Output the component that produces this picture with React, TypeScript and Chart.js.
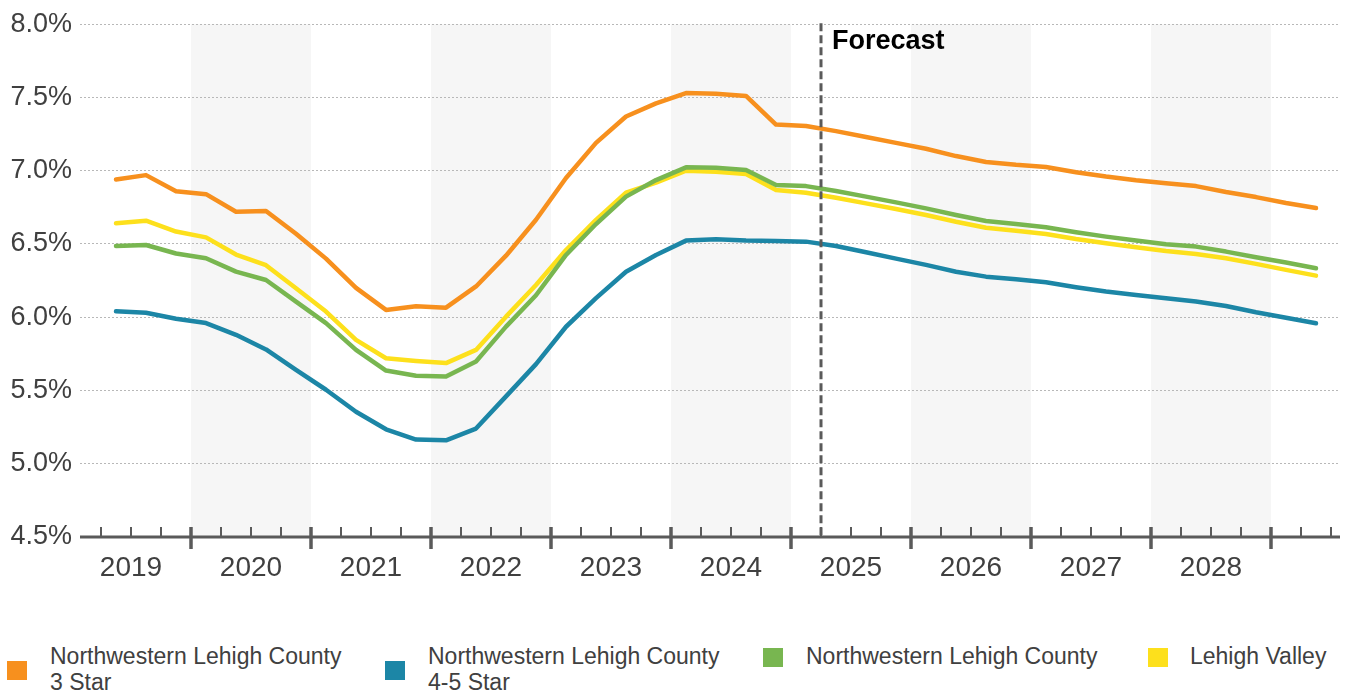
import React, { useEffect, useRef } from 'react';
import { Chart, registerables } from 'chart.js';

Chart.register(...registerables);

const FONT = '"Liberation Sans", Arial, Helvetica, sans-serif';

// Quarterly periods shown (2019 Q2 .. 2029 Q2)
const QUARTERS = [
  '2019 Q2', '2019 Q3', '2019 Q4',
  '2020 Q1', '2020 Q2', '2020 Q3', '2020 Q4',
  '2021 Q1', '2021 Q2', '2021 Q3', '2021 Q4',
  '2022 Q1', '2022 Q2', '2022 Q3', '2022 Q4',
  '2023 Q1', '2023 Q2', '2023 Q3', '2023 Q4',
  '2024 Q1', '2024 Q2', '2024 Q3', '2024 Q4',
  '2025 Q1', '2025 Q2', '2025 Q3', '2025 Q4',
  '2026 Q1', '2026 Q2', '2026 Q3', '2026 Q4',
  '2027 Q1', '2027 Q2', '2027 Q3', '2027 Q4',
  '2028 Q1', '2028 Q2', '2028 Q3', '2028 Q4',
  '2029 Q1', '2029 Q2',
];

const YEAR_LABELS = ['2019', '2020', '2021', '2022', '2023', '2024', '2025', '2026', '2027', '2028'];
const SHADED_YEARS = ['2020', '2022', '2024', '2026', '2028'];
const Y_TICKS = [4.5, 5.0, 5.5, 6.0, 6.5, 7.0, 7.5, 8.0];
const FORECAST_START = '2025 Q2';
const FORECAST_LABEL = 'Forecast';

const SERIES_NAMES = [
  'Northwestern Lehigh County\n3 Star',
  'Northwestern Lehigh County\n4-5 Star',
  'Northwestern Lehigh County',
  'Lehigh Valley',
];
const SERIES_COLORS = ['#F7901E', '#1C86A6', '#78B650', '#FDE01C'];

const STAR3 = [
  6.94, 6.97, 6.86, 6.84, 6.72, 6.725, 6.57, 6.40, 6.20, 6.05, 6.075, 6.065,
  6.21, 6.42, 6.665, 6.95, 7.19, 7.37, 7.46, 7.53, 7.525, 7.51, 7.315, 7.305,
  7.27, 7.23, 7.19, 7.15, 7.10, 7.06, 7.04, 7.025, 6.99, 6.96, 6.935, 6.915,
  6.895, 6.855, 6.82, 6.78, 6.745,
];
const STAR45 = [
  6.04, 6.03, 5.99, 5.96, 5.88, 5.78, 5.64, 5.505, 5.355, 5.235, 5.165, 5.16,
  5.24, 5.46, 5.68, 5.935, 6.13, 6.31, 6.425, 6.523, 6.532, 6.523, 6.52, 6.516,
  6.486, 6.443, 6.40, 6.357, 6.31, 6.277, 6.259, 6.239, 6.205, 6.175, 6.152, 6.13,
  6.107, 6.077, 6.034, 5.997, 5.959,
];
const NW_LEHIGH = [
  6.486, 6.493, 6.435, 6.403, 6.311, 6.254, 6.107, 5.96, 5.777, 5.636, 5.60, 5.595,
  5.698, 5.936, 6.15, 6.425, 6.636, 6.823, 6.936, 7.023, 7.02, 7.005, 6.902, 6.895,
  6.861, 6.823, 6.784, 6.743, 6.698, 6.657, 6.636, 6.614, 6.58, 6.55, 6.523, 6.498,
  6.482, 6.448, 6.409, 6.373, 6.334,
];
const LEHIGH_VALLEY = [
  6.641, 6.659, 6.585, 6.545, 6.428, 6.355, 6.198, 6.039, 5.846, 5.72, 5.702, 5.687,
  5.777, 6.004, 6.22, 6.459, 6.664, 6.85, 6.918, 7.0, 6.993, 6.977, 6.868, 6.85,
  6.816, 6.777, 6.739, 6.698, 6.652, 6.611, 6.591, 6.568, 6.534, 6.505, 6.477, 6.452,
  6.432, 6.402, 6.364, 6.323, 6.284,
];

const BASE_YEAR = Number(YEAR_LABELS[0]);
const quarterStart = (label: string) => {
  const [y, q] = label.split(' Q');
  return (Number(y) - BASE_YEAR) * 4 + (Number(q) - 1);
};
const quarterCenter = (label: string) => quarterStart(label) + 0.5;
const yearCenter = (yr: string) => (Number(yr) - BASE_YEAR) * 4 + 2;
const yearStart = (yr: string) => (Number(yr) - BASE_YEAR) * 4;

const toPoints = (vals: number[]) => vals.map((v, i) => ({ x: quarterCenter(QUARTERS[i]), y: v }));

const CANVAS_W = 1361;
const CANVAS_H = 600;
const AXIS_COLOR = '#5a5a5a';
const TEXT_COLOR = '#404040';

const decorPlugin = {
  id: 'decor',
  beforeDraw(chart: any) {
    const { ctx, chartArea, scales } = chart;
    const x = scales.x;
    ctx.save();
    ctx.fillStyle = '#f6f6f6';
    SHADED_YEARS.forEach((yr) => {
      const s = x.getPixelForValue(yearStart(yr));
      const e = x.getPixelForValue(yearStart(yr) + 4);
      ctx.fillRect(s, chartArea.top, e - s, chartArea.bottom - chartArea.top);
    });
    ctx.restore();
  },
  afterDraw(chart: any) {
    const { ctx, chartArea, scales } = chart;
    const x = scales.x;
    const yAxis = chartArea.bottom;
    ctx.save();
    // forecast dashed line
    const fx = x.getPixelForValue(quarterStart(FORECAST_START));
    ctx.strokeStyle = AXIS_COLOR;
    ctx.lineWidth = 3;
    ctx.setLineDash([8, 4]);
    ctx.beginPath();
    ctx.moveTo(fx, chartArea.top - 1);
    ctx.lineTo(fx, yAxis);
    ctx.stroke();
    ctx.setLineDash([]);
    // forecast label
    ctx.fillStyle = '#000000';
    ctx.font = `bold 27px ${FONT}`;
    ctx.textAlign = 'left';
    ctx.textBaseline = 'alphabetic';
    ctx.fillText(FORECAST_LABEL, fx + 11, chartArea.top + 25);
    // axis line
    ctx.strokeStyle = AXIS_COLOR;
    ctx.lineWidth = 3;
    ctx.beginPath();
    ctx.moveTo(chartArea.left, yAxis);
    ctx.lineTo(chartArea.right, yAxis);
    ctx.stroke();
    // ticks
    const minQ = Math.ceil(x.min);
    const maxQ = Math.floor(x.max);
    for (let q = minQ; q <= maxQ; q++) {
      const px = x.getPixelForValue(q);
      const major = q % 4 === 0;
      ctx.lineWidth = major ? 3.5 : 2;
      ctx.beginPath();
      ctx.moveTo(px, yAxis - 10);
      ctx.lineTo(px, major ? yAxis + 12 : yAxis);
      ctx.stroke();
    }
    ctx.restore();
  },
};

export default function App() {
  const canvasRef = useRef<HTMLCanvasElement | null>(null);

  useEffect(() => {
    const canvas = canvasRef.current;
    if (!canvas) return;
    const seriesData = [STAR3, STAR45, NW_LEHIGH, LEHIGH_VALLEY];
    const chart = new Chart(canvas, {
      type: 'line',
      data: {
        datasets: seriesData.map((vals, i) => ({
          label: SERIES_NAMES[i].replace('\n', ' '),
          data: toPoints(vals),
          borderColor: SERIES_COLORS[i],
          backgroundColor: SERIES_COLORS[i],
          borderWidth: 4.5,
          pointRadius: 0,
          pointHoverRadius: 0,
          tension: 0,
          borderCapStyle: 'round',
          borderJoinStyle: 'round',
          fill: false,
        })),
      },
      options: {
        responsive: false,
        animation: false,
        devicePixelRatio: 1,
        layout: { padding: { left: 0, right: 21, top: 24, bottom: 0 } },
        plugins: {
          legend: { display: false },
          tooltip: { enabled: false },
          title: { display: false },
        },
        scales: {
          x: {
            type: 'linear',
            min: 0.3,
            max: 42.3,
            afterFit: (scale: any) => {
              scale.height = CANVAS_H - 537;
            },
            afterBuildTicks: (scale: any) => {
              scale.ticks = YEAR_LABELS.map((yr) => ({ value: yearCenter(yr) }));
            },
            grid: { display: false, drawTicks: false },
            border: { display: false },
            ticks: {
              autoSkip: false,
              maxRotation: 0,
              padding: 14,
              color: TEXT_COLOR,
              font: { family: FONT, size: 28 },
              callback: (v: any) => {
                const idx = YEAR_LABELS.findIndex((yr) => yearCenter(yr) === Number(v));
                return idx >= 0 ? YEAR_LABELS[idx] : '';
              },
            },
          },
          y: {
            min: Y_TICKS[0],
            max: Y_TICKS[Y_TICKS.length - 1],
            afterFit: (scale: any) => {
              scale.width = 80;
            },
            afterBuildTicks: (scale: any) => {
              scale.ticks = Y_TICKS.map((v) => ({ value: v }));
            },
            grid: {
              drawTicks: false,
              lineWidth: 1,
              color: (c: any) => (c.tick && c.tick.value === Y_TICKS[0] ? 'rgba(0,0,0,0)' : '#b8b8b8'),
            },
            border: { display: false, dash: [2, 2] },
            ticks: {
              padding: 8,
              color: TEXT_COLOR,
              font: { family: FONT, size: 27 },
              callback: (v: any) => `${Number(v).toFixed(1)}%`,
            },
          },
        },
      },
      plugins: [decorPlugin],
    } as any);
    return () => chart.destroy();
  }, []);

  const legendPos = [
    { sq: 7, tx: 50 },
    { sq: 385, tx: 428 },
    { sq: 763, tx: 806 },
    { sq: 1148, tx: 1190 },
  ];

  return (
    <div
      style={{
        position: 'fixed',
        left: 0,
        top: 0,
        width: CANVAS_W,
        height: 696,
        background: '#ffffff',
        overflow: 'hidden',
      }}
    >
      <canvas
        ref={canvasRef}
        width={CANVAS_W}
        height={CANVAS_H}
        style={{ position: 'absolute', left: 0, top: 0, width: CANVAS_W, height: CANVAS_H, display: 'block' }}
      />
      {SERIES_NAMES.map((name, i) => {
        const twoLines = name.includes('\n');
        return (
          <React.Fragment key={i}>
            <div
              style={{
                position: 'absolute',
                left: legendPos[i].sq,
                top: twoLines ? 661 : 648,
                width: 20,
                height: 19,
                background: SERIES_COLORS[i],
              }}
            />
            <div
              style={{
                position: 'absolute',
                left: legendPos[i].tx,
                top: 643,
                fontFamily: FONT,
                fontSize: 23,
                lineHeight: '26px',
                color: TEXT_COLOR,
                whiteSpace: 'pre-line',
              }}
            >
              {name}
            </div>
          </React.Fragment>
        );
      })}
    </div>
  );
}
